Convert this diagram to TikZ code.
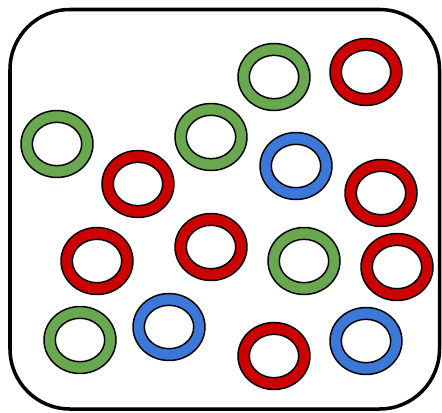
\documentclass[tikz,border=0pt]{standalone}
\usepackage{tikz}

\definecolor{ringgreen}{HTML}{6AA84F}
\definecolor{ringred}{HTML}{CC0000}
\definecolor{ringblue}{HTML}{3C78D8}

\tikzset{
    ring/.style={
        fill=#1,
        draw=black,
        line width=0.85pt,
        even odd rule
    }
}

\begin{document}
\begin{tikzpicture}[x=0.02cm, y=-0.02cm]

\useasboundingbox (0,0) rectangle (442,412);

\draw[
    line width=2pt,
    rounded corners=1.2cm
] (10,9.5) rectangle (439.5,409);

\foreach \px/\py/\col in {
    274/77/ringgreen, 366/72/ringred,
    57/144/ringgreen, 211/137/ringgreen, 296/166/ringblue,
    138/184/ringred, 381/193/ringred,
    97/261/ringred, 211/247/ringred, 304/261/ringgreen, 397/267/ringred,
    80/340/ringgreen, 169/327/ringblue, 274/356/ringred, 366/341/ringblue}
{
    \path[ring=\col] (\px,\py) ellipse (0.72cm and 0.67cm)
                     (\px,\py) ellipse (0.494cm and 0.434cm);
}

\end{tikzpicture}
\end{document}
